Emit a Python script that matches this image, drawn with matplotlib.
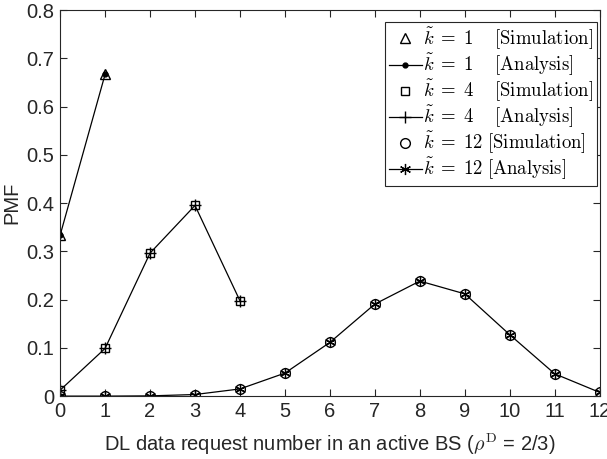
import numpy as np
import matplotlib
matplotlib.use("Agg")
from matplotlib import pyplot as plt

plt.rcParams['font.family'] = ['Liberation Sans', 'DejaVu Sans']
plt.rcParams['mathtext.fontset'] = 'cm'

# PMF values
n1 = [0, 1]
pmf1 = [0.3333, 0.6667]
n4 = [0, 1, 2, 3, 4]
pmf4 = [0.0123, 0.0988, 0.2963, 0.3951, 0.1975]
n12 = [0, 1, 2, 3, 4, 5, 6, 7, 8, 9, 10, 11, 12]
pmf12 = [0.0, 0.0, 0.0005, 0.0033, 0.0149, 0.0477, 0.1113, 0.1908,
         0.2384, 0.2119, 0.1272, 0.0462, 0.0077]

fig = plt.figure(figsize=(6.07, 4.59), dpi=100)
ax = fig.add_axes([0.099, 0.137, 0.889, 0.841])

ms = 7
asterisk = (6, 2, 0)
eq = r'\;=\;'
ax.plot(n1, pmf1, ls='none', marker='^', mfc='none', mec='k', ms=ms,
        label=r'$\tilde{k}' + eq + r'1\ \ \ \ \mathrm{[Simulation]}$')
ax.plot(n1, pmf1, color='k', lw=0.9, marker='.', ms=7,
        label=r'$\tilde{k}' + eq + r'1\ \ \ \ \mathrm{[Analysis]}$')
ax.plot(n4, pmf4, ls='none', marker='s', mfc='none', mec='k', ms=ms - 1,
        label=r'$\tilde{k}' + eq + r'4\ \ \ \ \mathrm{[Simulation]}$')
ax.plot(n4, pmf4, color='k', lw=0.9, marker='+', ms=8,
        label=r'$\tilde{k}' + eq + r'4\ \ \ \ \mathrm{[Analysis]}$')
ax.plot(n12, pmf12, ls='none', marker='o', mfc='none', mec='k', ms=ms,
        label=r'$\tilde{k}' + eq + r'12\ \mathrm{[Simulation]}$')
ax.plot(n12, pmf12, color='k', lw=0.9, marker=asterisk, ms=8, mew=0.9,
        label=r'$\tilde{k}' + eq + r'12\ \mathrm{[Analysis]}$')

ax.set_xlim(0, 12)
ax.set_ylim(0, 0.8)
ax.set_xticks(range(0, 13))
ax.set_yticks(np.arange(0, 0.81, 0.1))
ax.set_yticklabels(['0', '0.1', '0.2', '0.3', '0.4', '0.5', '0.6', '0.7', '0.8'])
ax.tick_params(direction='in', top=True, right=True, length=5, labelsize=14.5,
               colors='#262626', pad=4)
for s in ax.spines.values():
    s.set_color('#262626')
    s.set_linewidth(0.8)

ax.set_ylabel('PMF', fontsize=14.5, color='#262626', labelpad=4)
ax.set_xlabel(r'DL data request number in an active BS ($\rho^{\mathrm{D}}$ = 2/3)',
              fontsize=14.5, color='#262626', labelpad=8)

leg = ax.legend(loc='upper right', bbox_to_anchor=(597 / 607, 1 - 22 / 459),
                bbox_transform=fig.transFigure, borderaxespad=0,
                fontsize=13.5, frameon=True, fancybox=False,
                edgecolor='#262626', framealpha=1, handlelength=1.8,
                handletextpad=0.05, labelspacing=0.0, borderpad=0.2)
leg.get_frame().set_linewidth(0.8)

fig.savefig('out.png', dpi=100)
